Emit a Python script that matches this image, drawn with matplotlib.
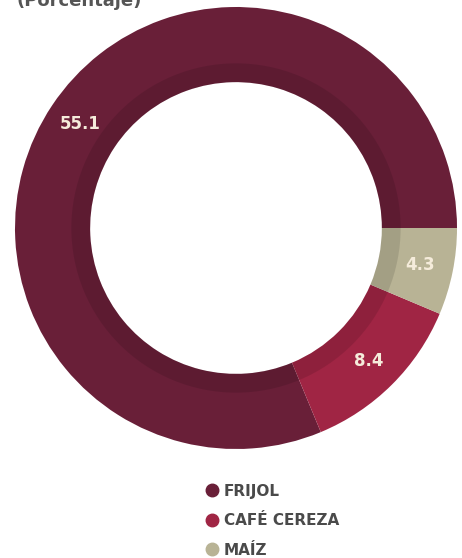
import numpy as np
import matplotlib.pyplot as plt
from matplotlib.lines import Line2D
from matplotlib.patches import Wedge

categorias = ['FRIJOL', 'CAFÉ CEREZA', 'MAÍZ']
valores = [55.1, 8.4, 4.3]
colores = ['#691f38', '#a02544', '#b8b395']

W, H = 462, 558
fig = plt.figure(figsize=(W / 100, H / 100), dpi=100)

# donut: centre (236, 228) px, radius 221 px
cx, cy, r = 236, 228, 221
ax = fig.add_axes([(cx - r) / W, (H - cy - r) / H, 2 * r / W, 2 * r / H])
wedges, textos = ax.pie(valores, colors=colores, startangle=0, radius=1,
                        labels=None, labeldistance=None,
                        wedgeprops=dict(width=0.34, linewidth=0))
for w, v in zip(wedges, valores):
    ang = np.deg2rad((w.theta1 + w.theta2) / 2)
    ax.text(0.85 * np.cos(ang), 0.85 * np.sin(ang), f'{v}', ha='center', va='center',
            fontsize=12, fontweight='bold', color='#f5ecdb')

# inner shadow ring
ax.add_patch(Wedge((0, 0), 0.745, 0, 360, width=0.085, color='black', alpha=0.11, lw=0))
ax.set_xlim(-1, 1)
ax.set_ylim(-1, 1)
ax.set_aspect('equal')
ax.axis('off')

fig.text(16 / W, 1 - 6 / H, '(Porcentaje)', fontsize=13, fontweight='bold',
         color='#555555', ha='left', va='baseline')

handles = [Line2D([], [], marker='o', linestyle='', markersize=9, color=c) for c in colores]
leg = fig.legend(handles, categorias, loc='upper left', bbox_to_anchor=(197 / W, 1 - 476 / H),
                 frameon=False, handletextpad=0.25, labelspacing=0.95, handlelength=1.0,
                 borderpad=0, prop=dict(weight='bold', size=11))
for t in leg.get_texts():
    t.set_color('#4a4a4a')

fig.savefig('out.png', dpi=100)
